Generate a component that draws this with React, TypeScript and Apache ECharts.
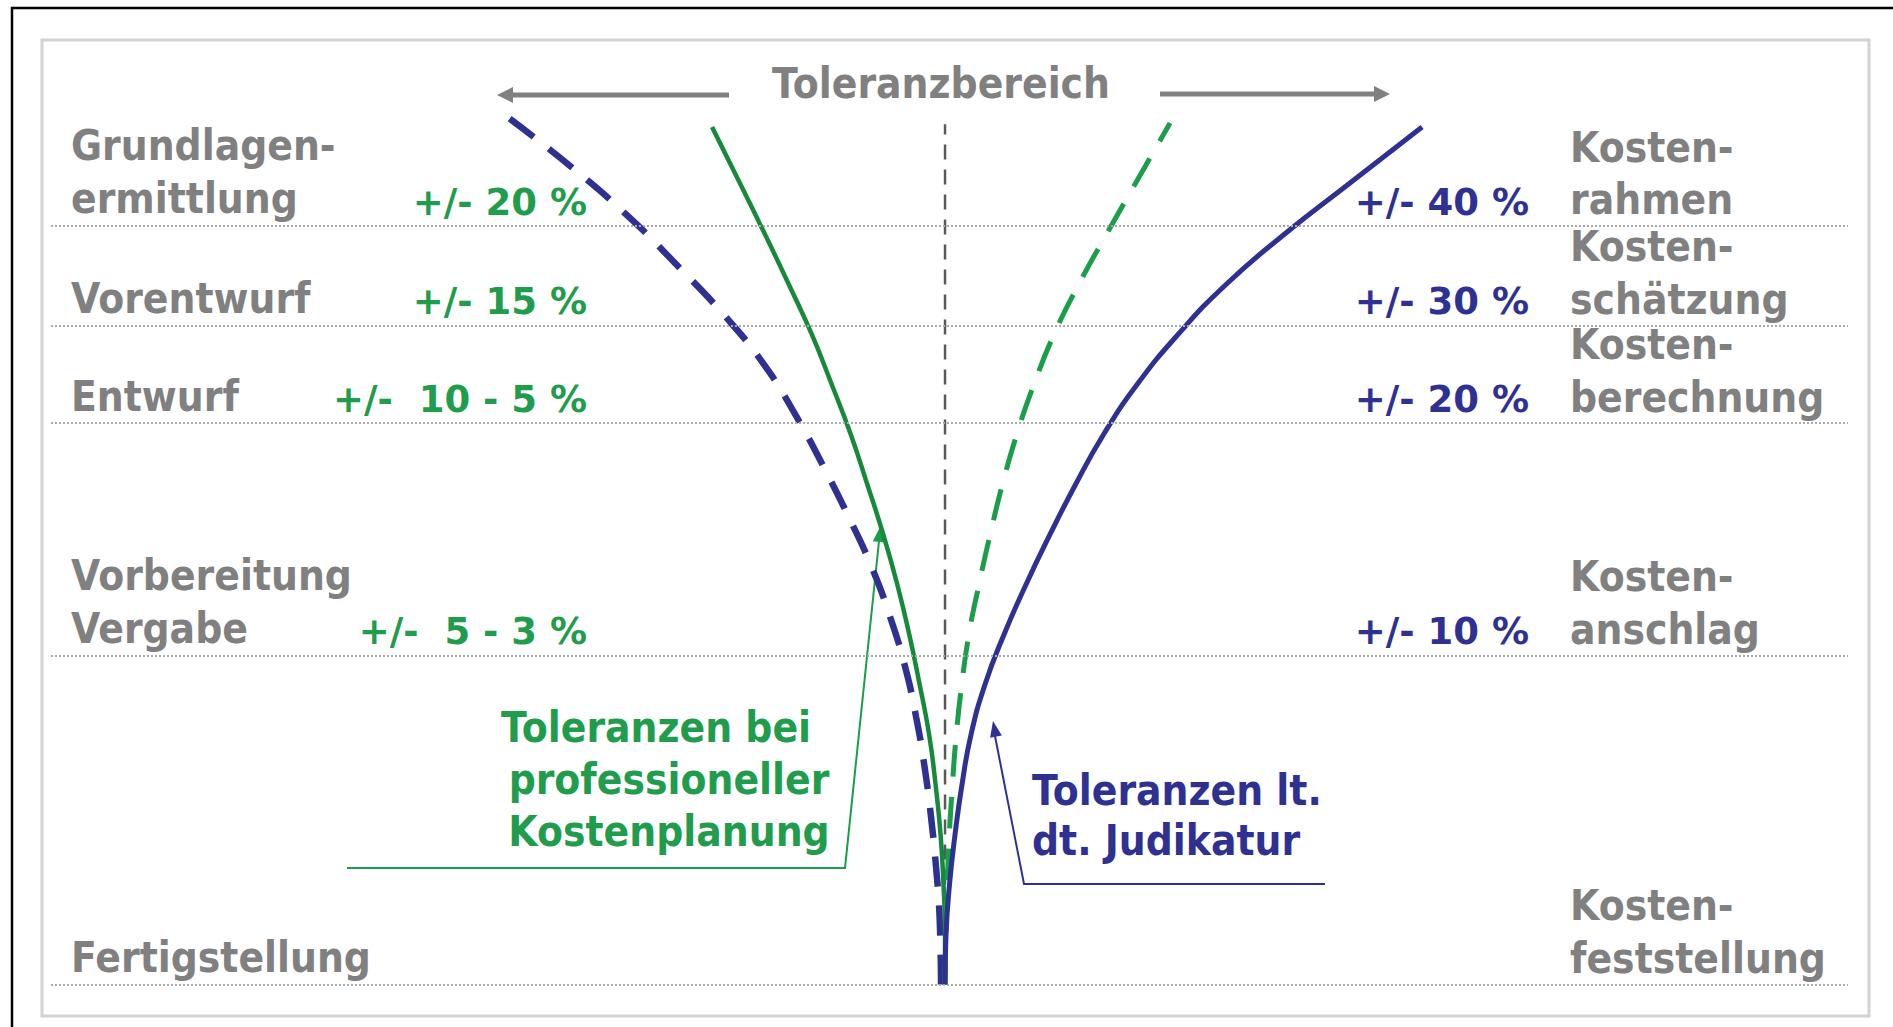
import React, { useEffect, useRef } from "react";
import * as echarts from "echarts";

// ---- data ----
// vertical position of each planning phase (0 = completion, 100 = first phase)
const stagePos = [100, 86.9, 74.0, 43.4, 0];
const stageLeft = [["Grundlagen-", "ermittlung"], ["Vorentwurf"], ["Entwurf"], ["Vorbereitung", "Vergabe"], ["Fertigstellung"]];
const stageRight = [["Kosten-", "rahmen"], ["Kosten-", "schätzung"], ["Kosten-", "berechnung"], ["Kosten-", "anschlag"], ["Kosten-", "feststellung"]];
const tolProfLabels = ["+/- 20 %", "+/- 15 %", "+/-  10 - 5 %", "+/-  5 - 3 %"];
const tolJudLabels = ["+/- 40 %", "+/- 30 %", "+/- 20 %", "+/- 10 %"];

// curves: [deviation %, phase position]
const judUpper: [number, number][] = [[0, 0], [0.11, 6.59], [0.5, 13.18], [1.12, 19.78], [1.9, 26.37], [2.91, 32.96], [4.47, 39.55], [6.6, 46.15], [9.06, 52.74], [11.74, 59.33], [14.6, 65.92], [17.73, 72.51], [21.48, 79.1], [26.06, 85.7], [31.43, 92.29], [37.92, 98.88], [45.08, 105.47], [53.36, 113.05]];
const judLower: [number, number][] = [[-0.45, 0], [-0.61, 8.94], [-1.01, 15.53], [-1.57, 22.12], [-2.29, 28.71], [-3.24, 35.3], [-4.47, 41.9], [-6.15, 48.49], [-8.22, 55.08], [-10.79, 61.67], [-13.59, 68.27], [-16.61, 74.86], [-20.08, 81.45], [-24.55, 88.04], [-29.81, 94.63], [-35.4, 101.23], [-41.83, 107.82], [-48.99, 114.41]];
const profUpper: [number, number][] = [[0, 0], [0.1, 6.59], [0.25, 13.18], [0.48, 19.78], [0.83, 26.37], [1.26, 32.96], [1.87, 39.55], [2.67, 46.15], [3.8, 52.74], [5.05, 59.33], [6.42, 65.92], [8.02, 72.51], [9.94, 79.1], [12.19, 85.7], [14.95, 92.29], [18.04, 98.88], [21.23, 105.47], [25.17, 113.58]];
const profLower: [number, number][] = [[0, 0], [0, 6.59], [-0.17, 13.18], [-0.5, 19.78], [-1.06, 26.37], [-1.78, 32.96], [-2.84, 39.55], [-4.0, 46.15], [-5.34, 52.74], [-6.91, 59.33], [-8.69, 65.92], [-10.54, 72.51], [-12.67, 79.1], [-14.9, 85.7], [-17.47, 92.29], [-20.13, 98.88], [-22.87, 105.47], [-26.06, 113.05]];
const centerLine: [number, number][] = [[0, 0], [0, 113.4]];

const FONT = '"DejaVu Sans", Verdana, sans-serif';
const BLUE = "#2e3191";
const GREEN_SOLID = "#168a3a";
const GREEN_DASH = "#1a9e49";
const GREEN_TEXT = "#1f9c4c";
const GRAY = "#808080";

export default function App() {
  const ref = useRef<HTMLDivElement>(null);

  useEffect(() => {
    const chart = echarts.init(ref.current!, undefined, { renderer: "svg" });
    const line = (name: string, data: [number, number][], color: string, width: number, type: any, smooth = 0.5) => ({
      name,
      type: "line",
      data,
      smooth,
      symbol: "none",
      silent: true,
      lineStyle: { color, width, type, cap: "butt" },
    });
    chart.setOption({
      animation: false,
      backgroundColor: "#ffffff",
      grid: { left: 51, right: 45, top: 74.3, bottom: 42.5 },
      xAxis: { type: "value", min: -100, max: 101, show: false },
      yAxis: { type: "value", min: 0, max: 120, show: false },
      series: [
        {
          ...line("Mitte", centerLine, "#5a5a5a", 2.5, [15, 10], 0),
          markLine: {
            silent: true,
            symbol: ["none", "none"],
            label: { show: false },
            lineStyle: { color: "#a9a9a9", width: 2, type: [2, 2] },
            data: stagePos.map((v) => ({ yAxis: v })),
          },
        },
        line("Judikatur unten", judLower, BLUE, 6.5, [30, 19]),
        line("Professionell unten", profLower, GREEN_SOLID, 4.5, "solid"),
        line("Professionell oben", profUpper, GREEN_DASH, 5, [32, 20]),
        line("Judikatur oben", judUpper, BLUE, 5, "solid"),
      ],
    });

    const px = (x: number, y: number) => chart.convertToPixel({ xAxisIndex: 0, yAxisIndex: 0 }, [x, y]) as number[];

    const text = (t: string, x: number, baseline: number, color: string, size: number, align: string, sx: number) => ({
      type: "text",
      x,
      y: baseline - 0.346 * size,
      scaleX: sx,
      silent: true,
      style: { text: t, fill: color, font: `bold ${size}px ${FONT}`, textAlign: align, textVerticalAlign: "middle" },
    });
    const head = (tx: number, ty: number, fx: number, fy: number, len: number, half: number, color: string) => {
      const dx = tx - fx, dy = ty - fy, d = Math.hypot(dx, dy);
      const ux = dx / d, uy = dy / d;
      const bx = tx - ux * len, by = ty - uy * len;
      return {
        type: "polygon",
        silent: true,
        shape: { points: [[tx, ty], [bx - uy * half, by + ux * half], [bx + uy * half, by - ux * half]] },
        style: { fill: color },
      };
    };

    const g: any[] = [];
    // frames
    g.push({ type: "rect", silent: true, shape: { x: 12, y: 8, width: 1900, height: 1040 }, style: { fill: "none", stroke: "#000", lineWidth: 2.5 } });
    g.push({ type: "rect", silent: true, shape: { x: 42, y: 40, width: 1827, height: 976 }, style: { fill: "none", stroke: "#d2d2d2", lineWidth: 3 } });

    // title + arrows
    g.push(text("Toleranzbereich", 941, 98, GRAY, 43, "center", 0.88));
    g.push({ type: "line", silent: true, shape: { x1: 729, y1: 95, x2: 510, y2: 95 }, style: { stroke: GRAY, lineWidth: 5 } });
    g.push(head(497, 95, 729, 95, 16, 8, GRAY));
    g.push({ type: "line", silent: true, shape: { x1: 1160, y1: 94, x2: 1377, y2: 94 }, style: { stroke: GRAY, lineWidth: 5 } });
    g.push(head(1390, 94, 1160, 94, 16, 8, GRAY));

    // stage labels
    stagePos.forEach((v, i) => {
      const gy = px(0, v)[1];
      const L = stageLeft[i];
      L.forEach((t, k) => {
        const b = gy - 12.5 - (L.length - 1 - k) * 53;
        g.push(text(t, 71, b, GRAY, 43, "left", 0.88));
      });
      const R = stageRight[i];
      R.forEach((t, k) => {
        const b = gy - 11.5 - (R.length - 1 - k) * 52.5;
        g.push(text(t, 1570, b, GRAY, 43, "left", 0.88));
      });
      if (i < tolProfLabels.length) {
        g.push(text(tolProfLabels[i], 587, gy - 11, GREEN_TEXT, 37, "right", 1.0));
        g.push(text(tolJudLabels[i], 1529, gy - 11, BLUE, 37, "right", 1.0));
      }
    });

    // green annotation
    g.push(text("Toleranzen bei", 656, 742, GREEN_TEXT, 43, "center", 0.88));
    g.push(text("professioneller", 669, 794, GREEN_TEXT, 43, "center", 0.88));
    g.push(text("Kostenplanung", 669, 846, GREEN_TEXT, 43, "center", 0.88));
    g.push({ type: "polyline", silent: true, shape: { points: [[347, 868], [845, 868], [879, 541]] }, style: { stroke: GREEN_DASH, lineWidth: 2, fill: "none" } });
    g.push(head(880.5, 526, 845, 868, 16, 6, GREEN_DASH));

    // blue annotation
    g.push(text("Toleranzen lt.", 1032, 805, BLUE, 43, "left", 0.88));
    g.push(text("dt. Judikatur", 1032, 855, BLUE, 43, "left", 0.88));
    g.push({ type: "polyline", silent: true, shape: { points: [[1325, 884], [1024, 884], [995, 736]] }, style: { stroke: BLUE, lineWidth: 2, fill: "none" } });
    g.push(head(993, 721, 1024, 884, 16, 6, BLUE));

    chart.setOption({ graphic: g });
    return () => chart.dispose();
  }, []);

  return (
    <div
      ref={ref}
      style={{ position: "fixed", left: 0, top: 0, width: 1893, height: 1027, background: "#ffffff" }}
    />
  );
}
